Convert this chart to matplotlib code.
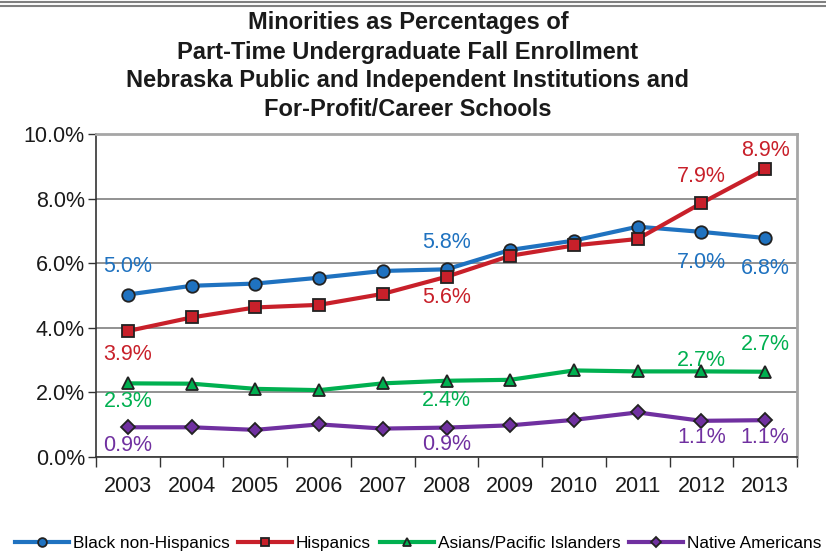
import matplotlib
matplotlib.use("Agg")
import matplotlib.pyplot as plt
from matplotlib.lines import Line2D
import numpy as np

plt.rcParams['font.family'] = ['Liberation Sans', 'DejaVu Sans']

years = ["2003", "2004", "2005", "2006", "2007", "2008", "2009", "2010", "2011", "2012", "2013"]
black = [5.03, 5.30, 5.37, 5.55, 5.76, 5.81, 6.41, 6.70, 7.13, 6.97, 6.78]
hispanic = [3.90, 4.32, 4.63, 4.71, 5.05, 5.58, 6.23, 6.55, 6.75, 7.86, 8.91]
asian = [2.28, 2.27, 2.11, 2.07, 2.28, 2.36, 2.39, 2.68, 2.65, 2.65, 2.64]
native = [0.92, 0.92, 0.84, 1.01, 0.88, 0.91, 0.98, 1.15, 1.38, 1.12, 1.14]

series_names = ["Black non-Hispanics", "Hispanics", "Asians/Pacific Islanders", "Native Americans"]
colors = ["#1F72C0", "#C8202A", "#00B050", "#7030A0"]
markers = ["o", "s", "^", "D"]
msizes = [9, 9, 9, 7]

# labels: (index, text, offset pixels)
labels = [
    [(0, "5.0%", 28), (5, "5.8%", 27), (9, "7.0%", -31), (10, "6.8%", -30)],
    [(0, "3.9%", -23), (5, "5.6%", -21), (9, "7.9%", 27), (10, "8.9%", 19)],
    [(0, "2.3%", -18), (5, "2.4%", -20), (9, "2.7%", 11), (10, "2.7%", 27)],
    [(0, "0.9%", -18), (5, "0.9%", -17), (9, "1.1%", -17), (10, "1.1%", -17)],
]

fig = plt.figure(figsize=(8.26, 5.53), dpi=100)
ax = fig.add_axes([96/826, 1-457/553, (797-96)/826, (457-134)/553])

x = np.arange(len(years))
data = [black, hispanic, asian, native]
handles = []
for vals, c, m, ms, name, labs in zip(data, colors, markers, msizes, series_names, labels):
    h, = ax.plot(x, vals, color=c, lw=3, marker=m, ms=ms, mfc=c, mec="#222222",
                 mew=1.3, label=name, zorder=3)
    handles.append(h)
    for i, t, off in labs:
        ax.annotate(t, (x[i], vals[i]), xytext=(0, off), textcoords="offset pixels",
                    ha="center", va="center", fontsize=15.5, color=c, zorder=4)

ax.set_xlim(-0.5, len(years) - 0.5)
ax.set_ylim(0, 10)
ax.set_yticks([0, 2, 4, 6, 8, 10])
ax.set_yticklabels(["0.0%", "2.0%", "4.0%", "6.0%", "8.0%", "10.0%"], fontsize=15.5, color="#1a1a1a")
ax.set_xticks(x)
ax.set_xticklabels(years, fontsize=15.5, color="#1a1a1a")
ax.tick_params(axis="x", which="major", length=0, pad=14)
ax.set_xticks(np.arange(-0.5, len(years)), minor=True)
ax.tick_params(axis="x", which="minor", length=7, width=1, color="#333333", direction="out")
ax.tick_params(axis="y", length=6, width=1, color="#333333", direction="out", pad=2)
ax.grid(axis="y", color="#7f7f7f", lw=1.2, zorder=0)
ax.set_axisbelow(True)
for s in ["left", "bottom"]:
    ax.spines[s].set_color("#333333")
    ax.spines[s].set_linewidth(1.2)
for s in ["top", "right"]:
    ax.spines[s].set_color("#a6a6a6")
    ax.spines[s].set_linewidth(2)

title = ["Minorities as Percentages of",
         "Part-Time Undergraduate Fall Enrollment",
         "Nebraska Public and Independent Institutions and",
         "For-Profit/Career Schools"]
for k, t in enumerate(title):
    fig.text(408/826, 1 - (23 + 29*k)/553, t, ha="center", va="center",
             fontsize=17, fontweight="bold", color="#1a1a1a")

# top decorative double rule
fig.add_artist(Line2D([0, 1], [1 - 1.5/553, 1 - 1.5/553], transform=fig.transFigure, color="#808080", lw=1.5))
fig.add_artist(Line2D([0, 1], [1 - 6/553, 1 - 6/553], transform=fig.transFigure, color="#808080", lw=1.5))

fig.legend(handles=handles, loc="center", bbox_to_anchor=(418/826, 1 - 543/553), ncol=4,
           frameon=False, fontsize=12.4, handlelength=3.15, handletextpad=0.22, columnspacing=0.5,
           markerscale=0.7, borderaxespad=0, borderpad=0)

fig.savefig("out.png", dpi=100)
